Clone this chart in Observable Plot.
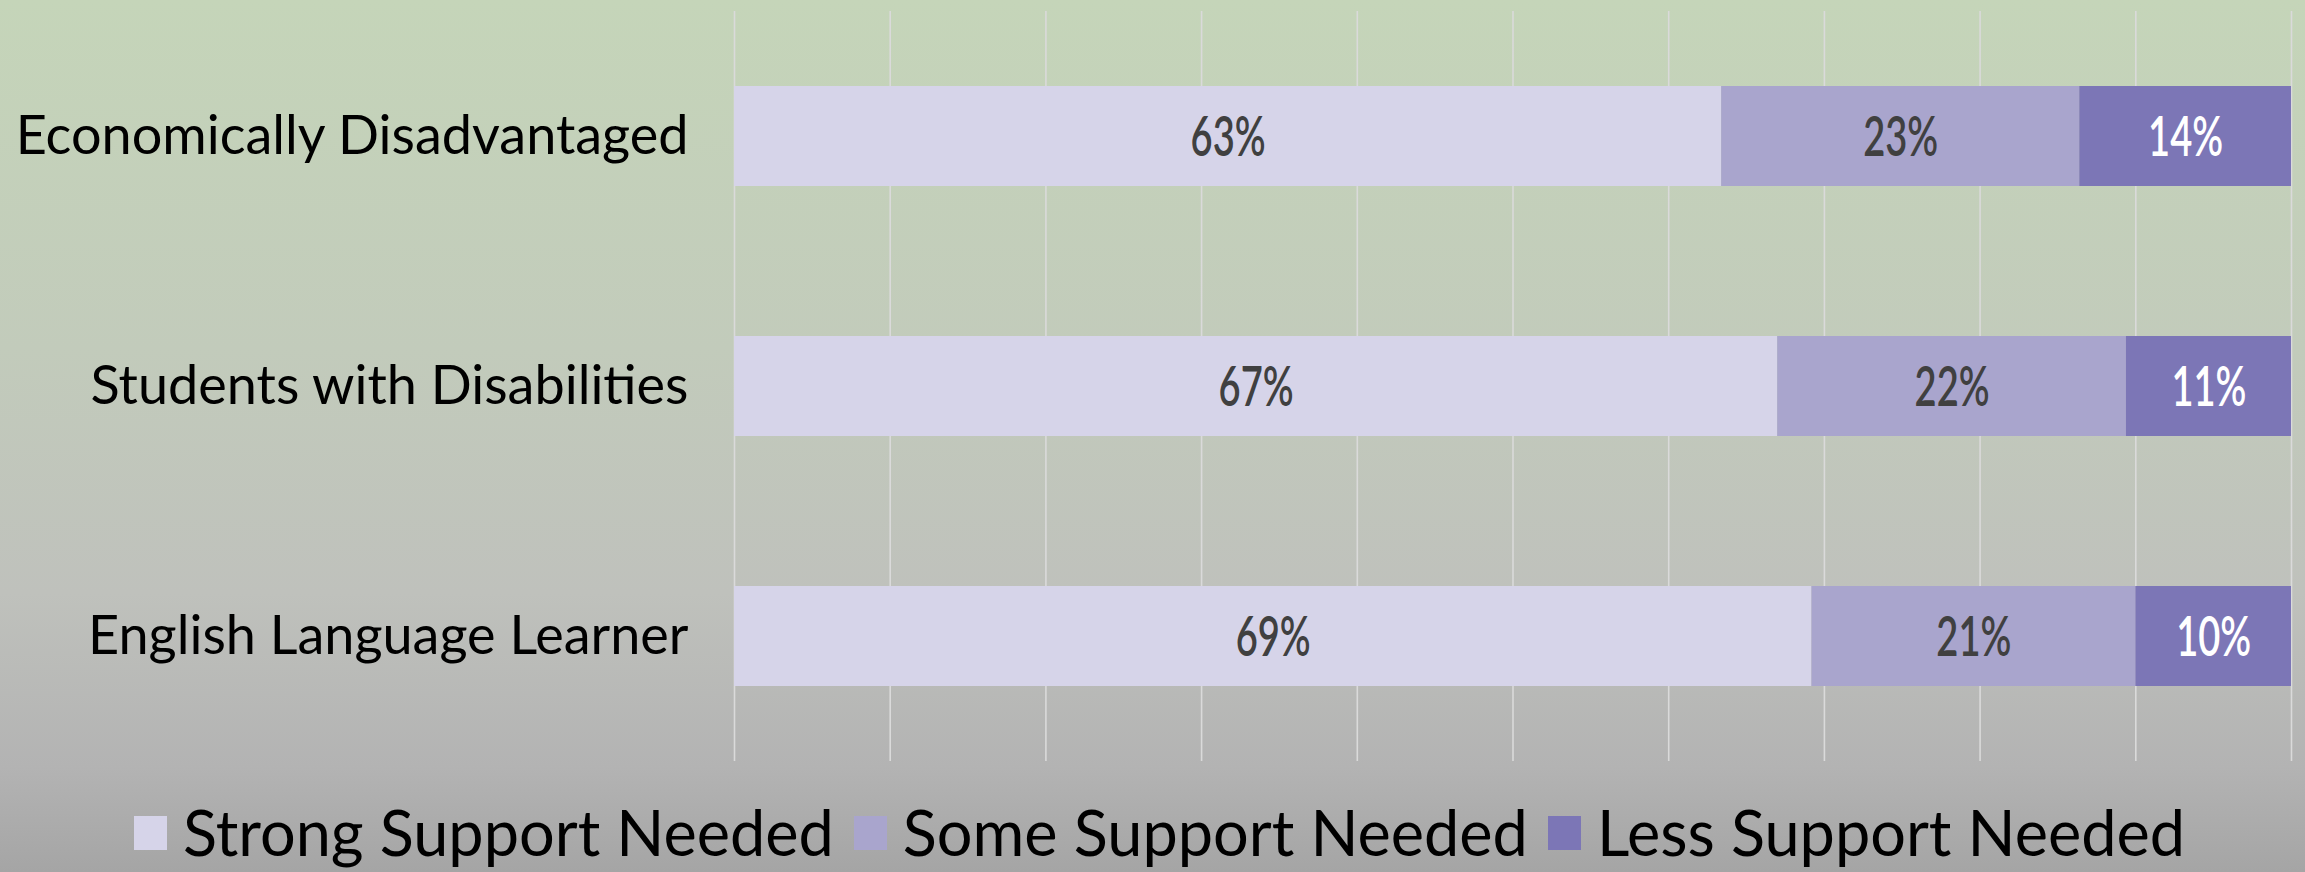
<!DOCTYPE html>
<html>
<head>
<meta charset="utf-8">
<script src="https://cdn.jsdelivr.net/npm/d3@7"></script>
<script src="https://cdn.jsdelivr.net/npm/@observablehq/plot@0.6"></script>
<style>
  html, body { margin: 0; padding: 0; }
  body {
    width: 2305px; height: 872px; overflow: hidden;
    background: linear-gradient(to bottom, #c5d5b9 0%, #c2cbbb 40%, #bfc1bc 68%, #b3b3b3 88%, #a5a5a5 100%);
    font-family: Lato, "Open Sans", sans-serif;
  }
  #legend {
    display: flex; justify-content: center; align-items: center;
    height: 82px; font-size: 63px; color: #000; padding-left: 14px;
  }
  .item { display: flex; align-items: center; margin: 0 10px; }
  .sw { width: 33px; height: 34px; margin-right: 16px; margin-top: 4px; }
</style>
</head>
<body>
<div id="chart"></div>
<div id="legend"></div>
<script>
const categories = ["Economically Disadvantaged", "Students with Disabilities", "English Language Learner"];
const seriesNames = ["Strong Support Needed", "Some Support Needed", "Less Support Needed"];
const seriesColors = ["#d6d4e9", "#a9a5cd", "#7c76b6"];
const labelColors = ["#404040", "#404040", "#ffffff"];
const strongValues = [63.4, 67.0, 69.2];
const someValues = [23.0, 22.4, 20.8];
const lessValues = [13.6, 10.6, 10.0];
const gridTicks = [0, 10, 20, 30, 40, 50, 60, 70, 80, 90, 100];

const seriesValues = [strongValues, someValues, lessValues];
const data = [];
categories.forEach((c, i) => {
  seriesNames.forEach((s, j) => {
    data.push({cat: c, series: s, value: seriesValues[j][i], label: Math.round(seriesValues[j][i]) + "%", lc: labelColors[j]});
  });
});

const W = 2305, H = 790;
const chart = Plot.plot({
  width: W, height: H,
  marginLeft: 734, marginRight: 14, marginTop: 11, marginBottom: H - 761,
  style: {background: "transparent", fontFamily: "Lato, sans-serif"},
  x: {domain: [0, 100], axis: null},
  y: {domain: categories, paddingInner: 0.6, paddingOuter: 0.3, label: null},
  color: {domain: seriesNames, range: seriesColors},
  marks: [
    Plot.ruleX(gridTicks, {stroke: "#dadada", strokeWidth: 1.6}),
    Plot.barX(data, Plot.stackX({x: "value", y: "cat", z: "series", fill: "series", order: null})),
    Plot.text(data, Plot.stackX({x: "value", y: "cat", z: "series", order: null, text: "label", fill: "lc",
      fontSize: 56, fontFamily: "Lato, sans-serif", fontWeight: 600, dy: 2, className: "vlabel"})),
    Plot.axisY({tickSize: 0, tickPadding: 46, fontSize: 54, label: null, fill: "#000", fontFamily: "Lato, sans-serif"})
  ]
});
document.getElementById("chart").appendChild(chart);

// condense the value labels horizontally
d3.select(chart).selectAll(".vlabel text").each(function() {
  const x = +this.getAttribute("x") || 0, y = +this.getAttribute("y") || 0;
  const tr = this.getAttribute("transform") || "";
  this.setAttribute("transform", `${tr} translate(${x},${y}) scale(0.68,1) translate(${-x},${-y})`);
});

const legend = document.getElementById("legend");
seriesNames.forEach((s, j) => {
  const it = document.createElement("div");
  it.className = "item";
  const sw = document.createElement("div");
  sw.className = "sw";
  sw.style.background = seriesColors[j];
  const t = document.createElement("span");
  t.textContent = s;
  it.appendChild(sw); it.appendChild(t);
  legend.appendChild(it);
});
</script>
</body>
</html>
